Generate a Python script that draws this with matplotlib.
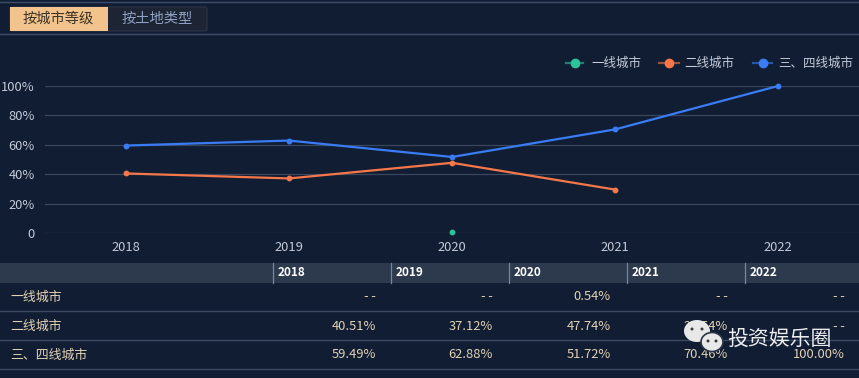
import matplotlib
matplotlib.use("Agg")
import matplotlib.pyplot as plt
from matplotlib.patches import Rectangle, FancyBboxPatch, Ellipse
from matplotlib.lines import Line2D
import numpy as np

plt.rcParams['font.family'] = ['Noto Sans CJK SC', 'DejaVu Sans']

# data
years = ["2018", "2019", "2020", "2021", "2022"]
series_names = ["一线城市", "二线城市", "三、四线城市"]
tier1 = [None, None, 0.54, None, None]
tier2 = [40.51, 37.12, 47.74, 29.54, None]
tier34 = [59.49, 62.88, 51.72, 70.46, 100.00]
y_ticks = [0, 20, 40, 60, 80, 100]
tabs = ["按城市等级", "按土地类型"]

colors = ["#2ec29a", "#f5774a", "#3a7cf6"]
BG = "#111d33"
GRID = "#3a4659"
TICK = "#c3cad8"
CELL = "#e3d2b4"

W, H = 859, 378
fig = plt.figure(figsize=(W / 100, H / 100), dpi=100)
fig.patch.set_facecolor(BG)


def fx(x):
    return x / W


def fy(y):
    return 1 - y / H


def hline(x0, x1, y, color, lw=1.0):
    fig.add_artist(Line2D([fx(x0), fx(x1)], [fy(y), fy(y)], color=color, lw=lw))


# tabs on top
hline(0, W, 2, "#3c4d6b")
hline(0, W, 34, "#3c4d6b")
fig.add_artist(FancyBboxPatch((fx(10), fy(31)), fx(197), fy(7) - fy(31),
                              boxstyle="round,pad=0,rounding_size=0.004",
                              fc="#1d2535", ec="#2c3546", lw=0.8))
fig.add_artist(Rectangle((fx(10), fy(31)), fx(98), fy(7) - fy(31),
                         fc="#f2c38c", ec="none"))
fig.text(fx(58), fy(19), tabs[0], color="#3b3325", fontsize=10.3, ha="center", va="center")
fig.text(fx(157), fy(19), tabs[1], color="#8fa2c4", fontsize=10.3, ha="center", va="center")

# chart area
ax = fig.add_axes([fx(44.5), fy(233), fx(815), fy(86) - fy(233)])
ax.set_facecolor(BG)
x = np.arange(len(years))
ax.set_xlim(-0.5, len(years) - 0.5)
ax.set_ylim(0, 100)
for t in y_ticks:
    ax.axhline(t, color=GRID, lw=0.9, zorder=1)
for s in ax.spines.values():
    s.set_visible(False)

for vals, c in zip([tier1, tier2, tier34], colors):
    arr = np.array([np.nan if v is None else v for v in vals], dtype=float)
    ax.plot(x, arr, color=c, lw=1.6, marker="o", ms=3.2, zorder=3, clip_on=False)

ax.set_xticks(x)
ax.set_xticklabels(years)
ax.set_yticks(y_ticks)
ax.set_yticklabels(["0" if t == 0 else f"{t}%" for t in y_ticks])
ax.tick_params(length=0, colors=TICK, labelsize=9.3)
ax.tick_params(axis="x", pad=6)
ax.tick_params(axis="y", pad=7)

# legend
leg_x = [(566, 583, 591), (659, 679, 684), (753, 772, 778)]
for (a, b, t), c, name in zip(leg_x, colors, series_names):
    fig.add_artist(Line2D([fx(a), fx(b)], [fy(63), fy(63)], color=c, lw=1.6, alpha=0.6))
    fig.add_artist(Line2D([fx((a + b) / 2)], [fy(63)], color=c, marker="o", ms=6))
    fig.text(fx(t), fy(63), name, color=TICK, fontsize=9, va="center")

# table
fig.add_artist(Rectangle((0, fy(283)), 1, fy(263) - fy(283), fc="#2d3a4d", ec="none"))
col_x = [273, 391, 509, 627, 745]
col_right = [376, 493, 611, 728, 845]
for cx, yr in zip(col_x, years):
    fig.add_artist(Line2D([fx(cx), fx(cx)], [fy(263), fy(283)], color="#7187aa", lw=0.9))
    fig.text(fx(cx + 5), fy(273), yr, color="white", fontsize=8.5,
             fontweight="bold", va="center")

row_y = [297, 326, 355]
for ry in [311, 340, 369]:
    hline(0, W, ry, "#3b4a60")

for ry, name, vals in zip(row_y, series_names, [tier1, tier2, tier34]):
    fig.text(fx(10), fy(ry), name, color=CELL, fontsize=9.3, va="center")
    for rx, v in zip(col_right, vals):
        if v is None:
            # two separate hyphens, like the source
            fig.text(fx(rx), fy(ry), "-\u2009-", color=CELL, fontsize=9.3, ha="right",
                     va="center", family=["DejaVu Sans"])
        else:
            fig.text(fx(rx), fy(ry), f"{v:.2f}%", color=CELL, fontsize=9.3,
                     ha="right", va="center")

# watermark (wechat icon + name)
over = fig.add_axes([0, 0, 1, 1], zorder=5)
over.set_xlim(0, W)
over.set_ylim(H, 0)
over.axis("off")
over.patch.set_alpha(0)
over.add_patch(Ellipse((697, 331), 26, 22, fc="#e8e8e8", ec="none"))
over.add_patch(Ellipse((712, 342), 22, 19, fc="#e8e8e8", ec="#2a3445", lw=1.2))
for ex, ey in [(692, 329), (702, 329), (708, 341), (716, 341)]:
    over.add_patch(Ellipse((ex, ey), 3, 3, fc="#3a3a3a", ec="none"))
fig.text(fx(727), fy(339), "投资娱乐圈", color="white", fontsize=15, va="center", alpha=0.92,
         zorder=6)

fig.savefig("out.png", dpi=100, facecolor=BG)
